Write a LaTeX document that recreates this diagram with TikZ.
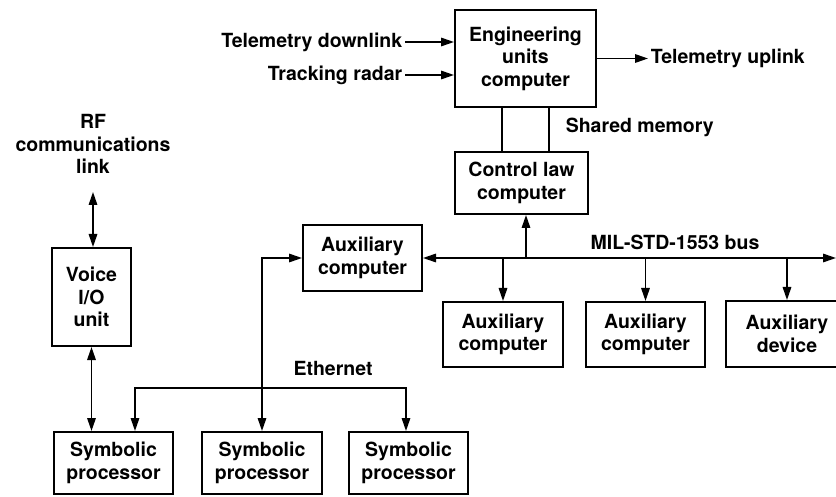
\documentclass[tikz,border=0pt]{standalone}
\usepackage{fontspec}
\setmainfont{TeX Gyre Heros}
\usetikzlibrary{arrows.meta}

\begin{document}
\begin{tikzpicture}
[x=1pt,y=-1pt,line width=1.6pt,>={Triangle[length=13pt,width=8.5pt]},%
  every node/.style={font=\bfseries\fontsize{19.5}{22.5}\selectfont,align=center},%
  unit/.style={draw,line width=2pt,inner sep=0pt},%
  lbl/.style={inner sep=2pt}]
\useasboundingbox (0,0) rectangle (836,497);
\node[unit,minimum width=141,minimum height=97] (eng) at (525.5,58.5) {Engineering\\units\\computer};
\node[unit,minimum width=133,minimum height=62] (ctl) at (521.5,183) {Control law\\computer};
\node[unit,minimum width=119,minimum height=66] (auxc) at (362.5,258) {Auxiliary\\computer};
\node[unit,minimum width=120,minimum height=65] (aux1) at (503,334.5) {Auxiliary\\computer};
\node[unit,minimum width=119,minimum height=65] (aux2) at (645.5,334.5) {Auxiliary\\computer};
\node[unit,minimum width=122,minimum height=66] (auxdev) at (787,334) {Auxiliary\\device};
\node[unit,minimum width=79,minimum height=98] (voice) at (91.5,297) {Voice\\I/O\\unit};
\node[unit,minimum width=119,minimum height=62] (sp1) at (113.5,463) {Symbolic\\processor};
\node[unit,minimum width=120,minimum height=62] (sp2) at (262,463) {Symbolic\\processor};
\node[unit,minimum width=119,minimum height=62] (sp3) at (408.5,463) {Symbolic\\processor};
\node[lbl,anchor=east] (tmdown) at (405,42) {Telemetry downlink};
\node[lbl,anchor=east] (track) at (405,75) {Tracking radar};
\node[lbl,anchor=west] (tmup) at (648,58.5) {Telemetry uplink};
\node[lbl,anchor=west] (shmem) at (563,127) {Shared memory};
\node[lbl] (milbus) at (675,242) {MIL-STD-1553 bus};
\node[lbl] (ether) at (333,368) {Ethernet};
\node[lbl] (rf) at (93,144) {RF\\communications\\link};
\coordinate (rfend) at (93,192);
\coordinate (busend) at (836,258);
\coordinate (ethl) at (135,388);
\coordinate (ethr) at (406,388);
\draw[->] (tmdown.east) -- (tmdown.east -| eng.west);
\draw[->] (track.east) -- (track.east -| eng.west);
\draw[->] (eng.east) -- (tmup.west);
\draw ([xshift=48pt]eng.south west) -- ([xshift=48pt]ctl.north west)
  ([xshift=95pt]eng.south west) -- ([xshift=95pt]ctl.north west);
\draw[<->] (auxc.east) -- (busend);
\draw[->] ([xshift=4.5pt]ctl.south |- busend) -- ([xshift=4.5pt]ctl.south);
\draw[->] (aux1.north |- busend) -- (aux1.north);
\draw[->] (aux2.north |- busend) -- (aux2.north);
\draw[->] (auxdev.north |- busend) -- (auxdev.north);
\draw[<->] (rfend) -- (rfend |- voice.north);
\draw[<->] (voice.south) -- (voice.south |- sp1.north);
\draw[<->] (ethl |- sp1.north) -- (ethl) -| (ethr |- sp3.north);
\draw[<->] (sp2.north) |- (auxc.west);
\end{tikzpicture}
\end{document}
